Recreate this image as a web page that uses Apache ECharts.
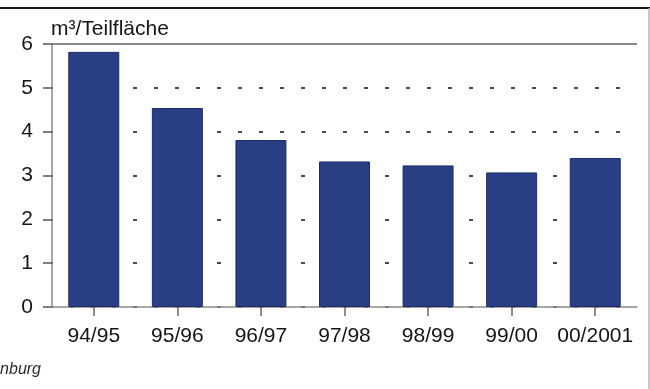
<!DOCTYPE html>
<html>
<head>
<meta charset="utf-8">
<script src="https://cdn.jsdelivr.net/npm/echarts@6/dist/echarts.min.js"></script>
<style>
  html, body { margin: 0; padding: 0; background: #fff; }
  #chart { width: 650px; height: 389px; }
</style>
</head>
<body>
<div id="chart"></div>
<script>
// Seasons on the category axis
var seasons = ['94/95', '95/96', '96/97', '97/98', '98/99', '99/00', '00/2001'];
// Volume per sub-area, m³
var volumes = [5.82, 4.54, 3.81, 3.32, 3.23, 3.07, 3.40];
// Value axis range and step
var yMin = 0;
var yMax = 6;
var yStep = 1;

var FONT = '"Liberation Sans", Arial, Helvetica, sans-serif';

var chart = echarts.init(document.getElementById('chart'), null, { renderer: 'canvas' });

chart.setOption({
  animation: false,
  backgroundColor: '#ffffff',
  title: {
    text: 'm³/Teilfläche',
    left: 51,
    top: 19,
    padding: 0,
    textStyle: { fontFamily: FONT, fontSize: 21, fontWeight: 'normal', color: '#151515' }
  },
  grid: { left: 52, right: 13, top: 44, bottom: 82, containLabel: false },
  xAxis: {
    type: 'category',
    data: seasons,
    axisLine: { show: true, lineStyle: { color: '#8a8a8a', width: 1.5 } },
    axisTick: { show: true, alignWithLabel: true, interval: 0, length: 9, lineStyle: { color: '#6a6a6a', width: 1.5 } },
    axisLabel: { interval: 0, margin: 19, fontFamily: FONT, fontSize: 21, color: '#151515' },
    splitLine: { show: false }
  },
  yAxis: {
    type: 'value',
    min: yMin,
    max: yMax,
    interval: yStep,
    axisLine: { show: true, lineStyle: { color: '#8a8a8a', width: 1.5 } },
    axisTick: { show: true, length: 9, lineStyle: { color: '#555', width: 1.5 } },
    axisLabel: { margin: 19, fontFamily: FONT, fontSize: 21, color: '#151515' },
    splitLine: {
      show: true,
      lineStyle: { color: '#4a4a4a', width: 1.8, type: [4, 17], dashOffset: 3 }
    }
  },
  series: [{
    type: 'bar',
    data: volumes,
    barCategoryGap: '39%',
    itemStyle: { color: '#2a3e86', borderColor: '#1d2c66', borderWidth: 1 },
    markLine: {
      silent: true,
      symbol: 'none',
      label: { show: false },
      lineStyle: { color: '#8a8a8a', width: 2, type: 'solid' },
      data: [{ yAxis: yMax }]
    }
  }],
  graphic: [
    { type: 'line', shape: { x1: 0, y1: 8, x2: 650, y2: 8 }, style: { stroke: '#1a1a1a', lineWidth: 2 } },
    { type: 'line', shape: { x1: 649, y1: 8, x2: 649, y2: 389 }, style: { stroke: '#b5b5b5', lineWidth: 1.5 } },
    {
      type: 'text', right: 609, top: 362,
      style: { text: 'Brandenburg', fontFamily: FONT, fontSize: 16, fontStyle: 'italic', fill: '#2a2a2a', textAlign: 'right' }
    }
  ]
});
</script>
</body>
</html>
